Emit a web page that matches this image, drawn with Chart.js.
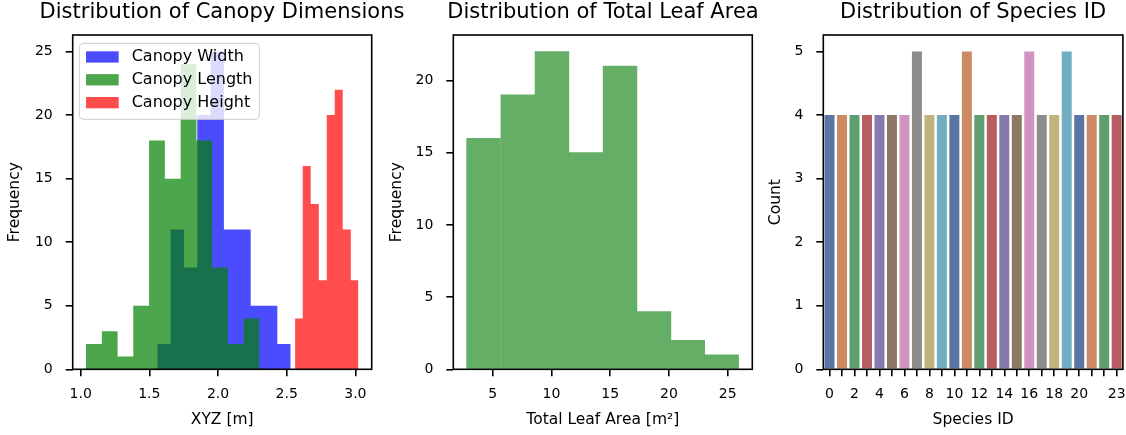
<!DOCTYPE html>
<html>
<head>
<meta charset="utf-8">
<script src="https://cdn.jsdelivr.net/npm/chart.js@4.4.1/dist/chart.umd.min.js"></script>
<style>
  html, body { margin: 0; padding: 0; background: #fff; }
  #wrap { position: relative; width: 1126px; height: 435px; overflow: hidden; }
  #wrap canvas { position: absolute; top: 0; }
</style>
</head>
<body>
<div id="wrap">
  <canvas id="canopyChart" width="444" height="435" style="left:0"></canvas>
  <canvas id="leafChart" width="450" height="435" style="left:378px"></canvas>
  <canvas id="speciesChart" width="369" height="435" style="left:757px"></canvas>
</div>
<script>
// canopy dimensions: bin edges [m] and counts
const widthEdges = [1.558, 1.655, 1.752, 1.849, 1.946, 2.043, 2.141, 2.238, 2.335, 2.432, 2.529];
const widthCounts = [2, 11, 8, 20, 25, 11, 11, 5, 5, 2];
const lengthEdges = [1.039, 1.154, 1.269, 1.383, 1.498, 1.613, 1.728, 1.843, 1.957, 2.072, 2.187, 2.302];
const lengthCounts = [2, 3, 1, 5, 18, 15, 24, 18, 8, 2, 4];
const heightEdges = [2.561, 2.617, 2.675, 2.734, 2.792, 2.850, 2.908, 2.967, 3.022];
const heightCounts = [4, 16, 13, 7, 20, 22, 11, 7];
const canopyTicks = [1.0, 1.5, 2.0, 2.5, 3.0];
const canopyFreqTicks = [0, 5, 10, 15, 20, 25];

// total leaf area
const leafEdges = [2.77, 5.68, 8.60, 11.49, 14.38, 17.29, 20.16, 23.04, 25.93];
const leafCounts = [16, 19, 22, 15, 21, 4, 2, 1];
const leafTicks = [5, 10, 15, 20, 25];
const leafFreqTicks = [0, 5, 10, 15, 20];

// species counts
const speciesIds = ['0','1','2','3','4','5','6','7','8','9','10','11','12','13','14','15','16','17','18','19','20','21','22','23'];
const speciesCounts = [4, 4, 4, 4, 4, 4, 4, 5, 4, 4, 4, 5, 4, 4, 4, 4, 5, 4, 4, 5, 4, 4, 4, 4];
const speciesTickLabels = ['0','2','4','6','8','10','12','14','16','18','20','23'];
const countTicks = [0, 1, 2, 3, 4, 5];

const deepPalette = ['#5875A4', '#CC8963', '#5F9E6E', '#B55D60', '#857AAB',
                     '#8D7866', '#D095BF', '#8C8C8C', '#C1B37F', '#71AEC0'];

Chart.defaults.font.family = "'DejaVu Sans', sans-serif";
Chart.defaults.color = '#000';

function stepPoints(edges, counts) {
  const pts = counts.map((c, i) => ({x: edges[i], y: c}));
  pts.push({x: edges[edges.length - 1], y: counts[counts.length - 1]});
  return pts;
}

function fixedTicks(values) {
  return s => { s.ticks = values.map(v => ({value: v})); };
}

const frame = {
  id: 'frame',
  afterDatasetsDraw(chart) {
    const {ctx, chartArea: a} = chart;
    ctx.save();
    ctx.strokeStyle = '#000';
    ctx.lineWidth = 1.6;
    ctx.strokeRect(a.left, a.top, a.right - a.left, a.bottom - a.top);
    ctx.restore();
  }
};

const canopyLegend = {
  id: 'canopyLegend',
  afterDatasetsDraw(chart) {
    const {ctx, chartArea: a} = chart;
    const x = a.left + 6.6, y = a.top + 8.3;
    ctx.save();
    ctx.beginPath();
    ctx.roundRect(x, y, 180, 76, 4);
    ctx.fillStyle = 'rgba(255,255,255,0.8)';
    ctx.fill();
    ctx.strokeStyle = '#cccccc';
    ctx.lineWidth = 1;
    ctx.stroke();
    ctx.font = "16px 'DejaVu Sans'";
    ctx.textBaseline = 'middle';
    chart.data.datasets.forEach((ds, i) => {
      const cy = y + 13.7 + i * 22.85;
      ctx.fillStyle = ds.backgroundColor;
      ctx.fillRect(x + 6.7, cy - 5.7, 32.7, 11.3);
      ctx.fillStyle = '#000';
      ctx.fillText(ds.label, x + 52.4, cy);
    });
    ctx.restore();
  }
};

function xAxis(opts) {
  return Object.assign({
    offset: false,
    afterFit: s => { s.height = 65.7; s.paddingLeft = 0; s.paddingRight = 0; },
    ticks: { padding: 10, font: {size: 14}, maxRotation: 0, autoSkip: false },
    grid: { drawOnChartArea: false, offset: false, tickLength: 7, lineWidth: 1.6, color: '#000' },
    border: { display: false },
  }, opts);
}

function yAxis(width, titleText, titlePad, opts) {
  return Object.assign({
    afterFit: s => { s.width = width; s.paddingTop = 0; s.paddingBottom = 0; },
    ticks: { padding: 13, font: {size: 14} },
    grid: { drawOnChartArea: false, tickLength: 7, lineWidth: 1.6, color: '#000' },
    border: { display: false },
    title: { display: true, text: titleText, font: {size: 15.5}, padding: {top: titlePad, bottom: 0} }
  }, opts);
}

// empty right-hand axis that only reserves room, so the title centres over the plot
function spacer(width) {
  return {
    type: 'linear', position: 'right',
    afterFit: s => { s.width = width; s.paddingTop = 0; s.paddingBottom = 0; },
    ticks: { display: false }, grid: { display: false }, border: { display: false }
  };
}

function titleOpts(text, fullSize) {
  return { display: true, text: text, fullSize: fullSize, font: {size: 21, weight: 'normal'},
           padding: {top: 0, bottom: 9.8} };
}

new Chart(document.getElementById('canopyChart'), {
  type: 'line',
  data: {
    datasets: [
      { label: 'Canopy Width', data: stepPoints(widthEdges, widthCounts), order: 2,
        backgroundColor: 'rgba(0,0,255,0.7)' },
      { label: 'Canopy Length', data: stepPoints(lengthEdges, lengthCounts), order: 1,
        backgroundColor: 'rgba(0,128,0,0.7)' },
      { label: 'Canopy Height', data: stepPoints(heightEdges, heightCounts), order: 0,
        backgroundColor: 'rgba(255,0,0,0.7)' }
    ].map(ds => Object.assign(ds, { stepped: true, fill: 'origin', borderColor: 'transparent',
                                     borderWidth: 0, pointRadius: 0 }))
  },
  options: {
    responsive: false,
    animation: false,
    layout: { padding: 0 },
    plugins: { legend: { display: false }, tooltip: { enabled: false },
               title: titleOpts('Distribution of Canopy Dimensions', true) },
    scales: {
      x: xAxis({
        type: 'linear', min: 0.942, max: 3.119,
        afterBuildTicks: fixedTicks(canopyTicks),
        ticks: { padding: 10, font: {size: 14}, maxRotation: 0, callback: v => v.toFixed(1) },
        title: { display: true, text: 'XYZ [m]', font: {size: 15.5}, padding: {top: 0, bottom: 5.7} }
      }),
      y: yAxis(72.7, 'Frequency', 6, { min: 0, max: 26.3, afterBuildTicks: fixedTicks(canopyFreqTicks) }),
      yR: spacer(72.3)
    }
  },
  plugins: [canopyLegend, frame]
});

new Chart(document.getElementById('leafChart'), {
  type: 'bar',
  data: {
    datasets: [{
      label: 'Total Leaf Area',
      data: leafCounts.map((c, i) => ({x: (leafEdges[i] + leafEdges[i + 1]) / 2, y: c})),
      backgroundColor: 'rgb(101,174,101)',
      barPercentage: 1,
      categoryPercentage: 1
    }]
  },
  options: {
    responsive: false,
    animation: false,
    layout: { padding: 0 },
    plugins: { legend: { display: false }, tooltip: { enabled: false },
               title: titleOpts('Distribution of Total Leaf Area', true) },
    scales: {
      x: xAxis({
        type: 'linear', min: 1.65, max: 27.09,
        afterBuildTicks: fixedTicks(leafTicks),
        title: { display: true, text: 'Total Leaf Area [m²]', font: {size: 15.5}, padding: {top: 0, bottom: 5.7} }
      }),
      y: yAxis(75.3, 'Frequency', 10, { min: 0, max: 23.15, afterBuildTicks: fixedTicks(leafFreqTicks) }),
      yR: spacer(75.7)
    }
  },
  plugins: [frame]
});

new Chart(document.getElementById('speciesChart'), {
  type: 'bar',
  data: {
    labels: speciesIds,
    datasets: [{
      label: 'Count',
      data: speciesCounts,
      backgroundColor: speciesIds.map((_, i) => deepPalette[i % deepPalette.length]),
      barPercentage: 0.8,
      categoryPercentage: 1
    }]
  },
  options: {
    responsive: false,
    animation: false,
    layout: { padding: { left: 0, right: 3.1, top: 0, bottom: 0 } },
    plugins: { legend: { display: false }, tooltip: { enabled: false },
               title: titleOpts('Distribution of Species ID', false) },
    scales: {
      x: xAxis({
        type: 'category', offset: true,
        ticks: { padding: 10, font: {size: 14}, maxRotation: 0, autoSkip: false,
                 callback: function (v) {
                   const l = this.getLabelForValue(v);
                   return speciesTickLabels.includes(l) ? l : '';
                 } },
        title: { display: true, text: 'Species ID', font: {size: 15.5}, padding: {top: 0, bottom: 5.7} }
      }),
      y: yAxis(66.3, 'Count', 9.7, { min: 0, max: 5.26, afterBuildTicks: fixedTicks(countTicks) })
    }
  },
  plugins: [frame]
});
</script>
</body>
</html>
